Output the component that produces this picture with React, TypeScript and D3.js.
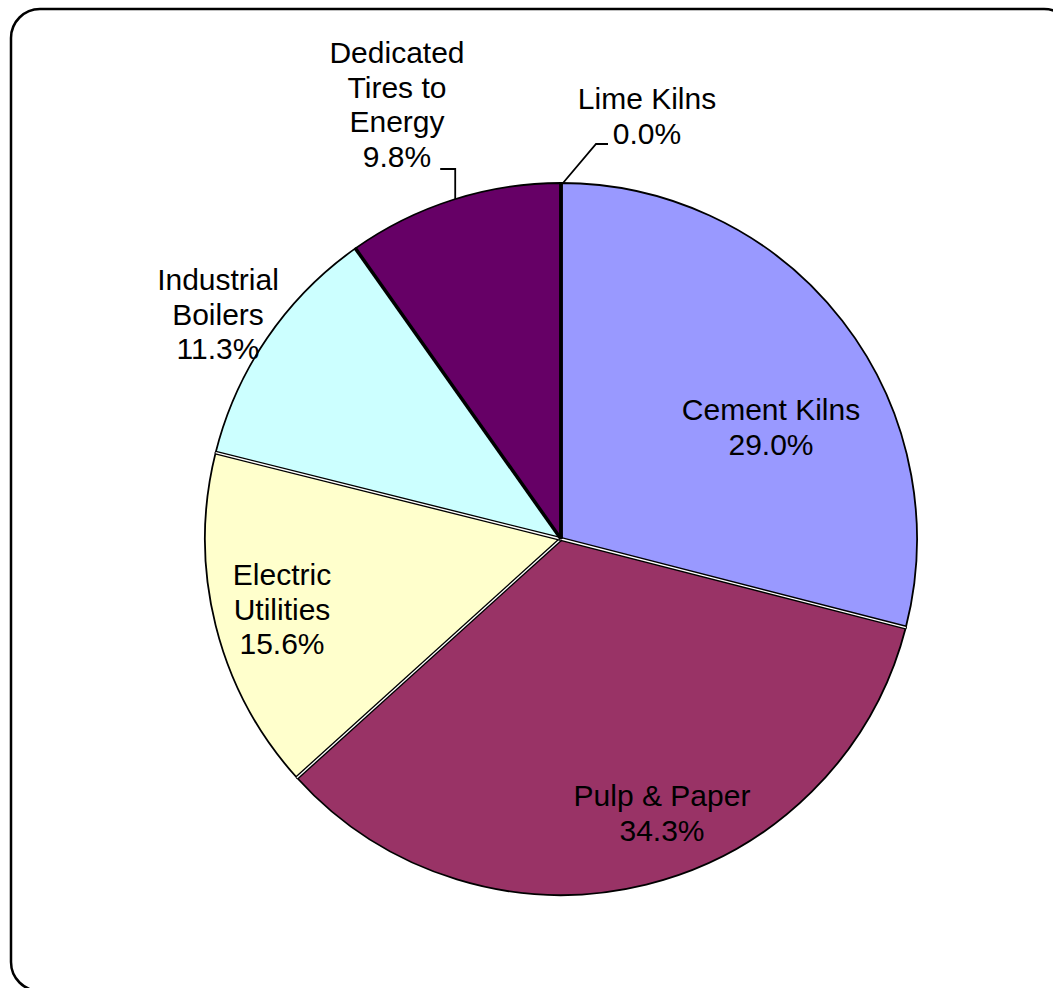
import React from "react";
import * as d3 from "d3";

const categories = ["Lime Kilns", "Cement Kilns", "Pulp & Paper", "Electric Utilities", "Industrial Boilers", "Dedicated Tires to Energy"];
const values = [0.0, 29.0, 34.3, 15.6, 11.3, 9.8];
const colors = ["#FFFFFF", "#9999FF", "#993366", "#FFFFCC", "#CCFFFF", "#660066"];
// label lines as displayed
const labelLines = [
  ["Lime Kilns", "0.0%"],
  ["Cement Kilns", "29.0%"],
  ["Pulp & Paper", "34.3%"],
  ["Electric", "Utilities", "15.6%"],
  ["Industrial", "Boilers", "11.3%"],
  ["Dedicated", "Tires to", "Energy", "9.8%"],
];
// label anchor (center x, first baseline y)
const labelPos = [
  [647, 109],
  [771, 420],
  [662, 806],
  [282, 585],
  [218, 290],
  [397, 63],
];
// boundaries where a thin white gap appears between slices
const gapAfter = [false, true, true, true, false, false];

const W = 1053;
const H = 988;
const cx = 561;
const cy = 539;
const R = 356;
const FONT = 30;
const LINE = 34.5;

export default function App() {
  const pie = d3.pie<number>().sort(null).value((d) => d).startAngle(0).endAngle(2 * Math.PI);
  const arcs = pie(values);
  const arc = d3.arc<d3.PieArcDatum<number>>().innerRadius(0).outerRadius(R);
  const pt = (a: number, r: number) => [cx + r * Math.sin(a), cy - r * Math.cos(a)];

  return (
    <svg width={W} height={H} style={{ position: "absolute", left: 0, top: 0, background: "#fff" }}>
      <rect x={11} y={9} width={1062} height={982} rx={29} ry={29} fill="none" stroke="#000" strokeWidth={2.5} />
      <g transform={`translate(${cx},${cy})`}>
        {arcs.map((a, i) => (
          <path key={i} d={arc(a) || ""} fill={colors[i]} stroke="#000" strokeWidth={1.8} />
        ))}
      </g>
      {arcs.map((a, i) => {
        const [x2, y2] = pt(a.endAngle, R);
        return (
          <g key={"b" + i}>
            <line x1={cx} y1={cy} x2={x2} y2={y2} stroke="#000" strokeWidth={gapAfter[i] ? 4 : 3.5} />
            {gapAfter[i] && <line x1={cx} y1={cy} x2={x2} y2={y2} stroke="#fff" strokeWidth={1.3} />}
          </g>
        );
      })}
      {/* leader lines */}
      {(() => {
        const [lx, ly] = pt(arcs[0].startAngle, R);
        const a5 = arcs[5];
        const ang = a5.startAngle + (a5.endAngle - a5.startAngle) * 0.51;
        const [tx, ty] = pt(ang, R);
        return (
          <g fill="none" stroke="#000" strokeWidth={1.8}>
            <polyline points={`${lx + 2},${ly} ${lx + 35},${144} ${lx + 47},${144}`} />
            <polyline points={`${tx},${ty} ${tx},${169} ${tx - 15},${169}`} />
          </g>
        );
      })()}
      {labelLines.map((lines, i) => (
        <text
          key={"t" + i}
          x={labelPos[i][0]}
          y={labelPos[i][1]}
          textAnchor="middle"
          fontFamily="Liberation Sans, Arial, sans-serif"
          fontSize={FONT}
          fill="#000"
        >
          {lines.map((l, j) => (
            <tspan key={j} x={labelPos[i][0]} dy={j === 0 ? 0 : LINE}>
              {l}
            </tspan>
          ))}
        </text>
      ))}
    </svg>
  );
}
